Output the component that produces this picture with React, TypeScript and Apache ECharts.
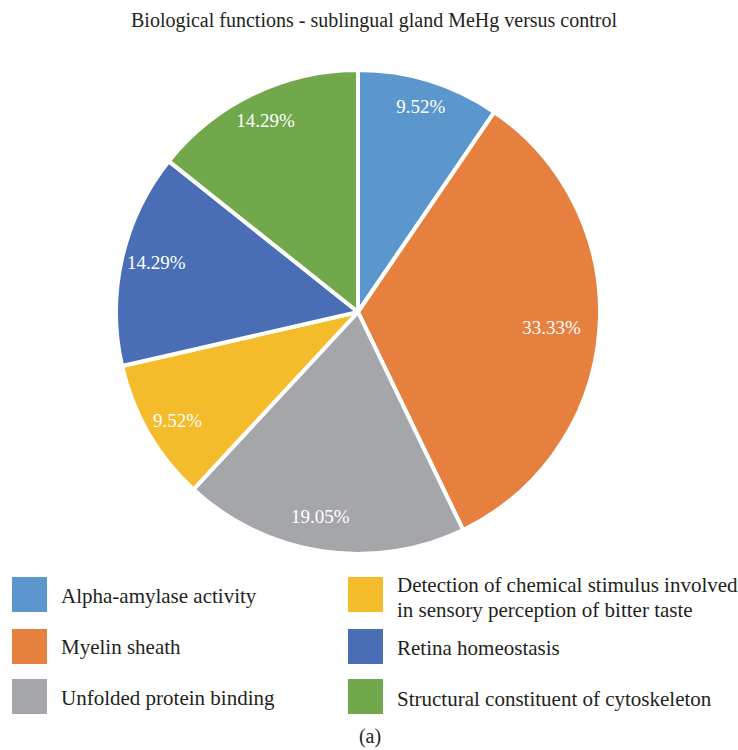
import React, { useEffect, useRef } from "react";
import * as echarts from "echarts";

const titleText = "Biological functions - sublingual gland MeHg versus control";
const categories = [
  "Alpha-amylase activity",
  "Myelin sheath",
  "Unfolded protein binding",
  "Detection of chemical stimulus involved in sensory perception of bitter taste",
  "Retina homeostasis",
  "Structural constituent of cytoskeleton",
];
const legendLabels = [
  "Alpha-amylase activity",
  "Myelin sheath",
  "Unfolded protein binding",
  "Detection of chemical stimulus involved\nin sensory perception of bitter taste",
  "Retina homeostasis",
  "Structural constituent of cytoskeleton",
];
const values = [9.52, 33.33, 19.05, 9.52, 14.29, 14.29];
const colors = ["#5b97cc", "#e6803f", "#a5a6aa", "#f4bb2b", "#4a6eb6", "#72a84c"];
const labelOffsets = [[0, -2], [-19, 0], [-6, -6], [4, 2], [6, -2], [0, 0]];
const caption = "(a)";

const FONT = '"Liberation Serif", "DejaVu Serif", serif';

export default function App() {
  const ref = useRef<HTMLDivElement>(null);
  useEffect(() => {
    if (!ref.current) return;
    const chart = echarts.init(ref.current, null, { renderer: "svg" });
    const data = categories.map((name, i) => ({
      name,
      value: values[i],
      itemStyle: { color: colors[i] },
    }));
    const legendItems: any[] = [];
    const colX = [12, 348];
    const rowY = [577, 629, 679];
    const textCenters = [
      [596, 647, 698],
      [597, 648, 699],
    ];
    for (let i = 0; i < 6; i++) {
      const col = i < 3 ? 0 : 1;
      const row = i % 3;
      legendItems.push({
        type: "rect",
        shape: { x: colX[col], y: rowY[row], width: 35, height: 35 },
        style: { fill: colors[i] },
      });
      legendItems.push({
        type: "text",
        x: colX[col] + 49,
        y: textCenters[col][row],
        style: {
          text: legendLabels[i],
          font: `21px ${FONT}`,
          fill: "#231f20",
          verticalAlign: "middle",
          lineHeight: 25,
        },
      });
    }
    legendItems.push({
      type: "text",
      x: 370,
      y: 736,
      style: {
        text: caption,
        font: `20px ${FONT}`,
        fill: "#231f20",
        align: "center",
        verticalAlign: "middle",
      },
    });
    chart.setOption({
      animation: false,
      title: {
        text: titleText,
        left: 369,
        top: 5,
        textAlign: "center",
        textStyle: {
          fontFamily: FONT,
          fontSize: 20,
          fontWeight: "normal",
          color: "#231f20",
        },
      },
      graphic: legendItems,
      series: [
        {
          type: "pie",
          center: [358, 312],
          radius: [0, 242],
          startAngle: 90,
          clockwise: true,
          silent: true,
          label: { show: false },
          labelLine: { show: false },
          itemStyle: { borderColor: "#ffffff", borderWidth: 4 },
          data,
        },
        {
          type: "pie",
          center: [358, 312],
          radius: [172, 248],
          startAngle: 90,
          clockwise: true,
          silent: true,
          itemStyle: { color: "rgba(0,0,0,0)", borderWidth: 0 },
          label: {
            show: true,
            position: "inside",
            formatter: (p: any) => `${p.value.toFixed(2)}%`,
            color: "#ffffff",
            fontFamily: FONT,
            fontSize: 19,
          },
          labelLine: { show: false },
          data: categories.map((name, i) => ({
            name,
            value: values[i],
            label: { offset: labelOffsets[i] },
          })),
        },
      ],
    });
    return () => chart.dispose();
  }, []);
  return (
    <div
      ref={ref}
      style={{ position: "fixed", left: 0, top: 0, width: 738, height: 750, background: "#fff" }}
    />
  );
}
